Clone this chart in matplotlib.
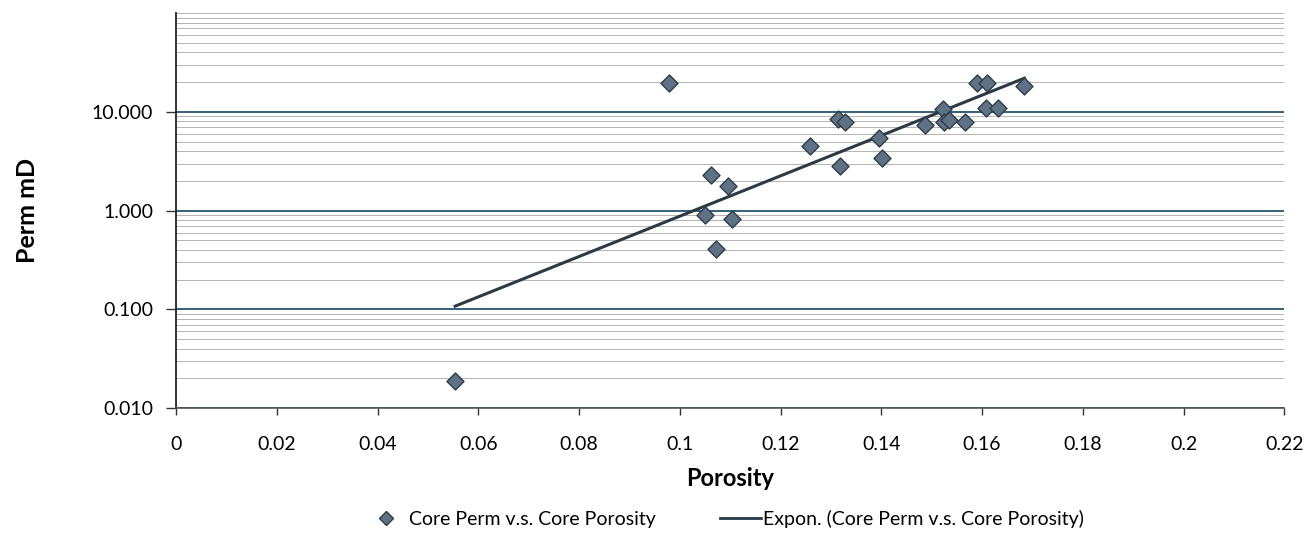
import numpy as np
import matplotlib.pyplot as plt
from matplotlib.ticker import FixedLocator, FuncFormatter, NullFormatter, LogLocator
from matplotlib.lines import Line2D

# core data
porosity = [0.0554, 0.0979, 0.1049, 0.1062, 0.1072, 0.1096, 0.1104, 0.1259,
            0.1313, 0.1317, 0.1327, 0.1396, 0.1402, 0.1486, 0.1523, 0.1525,
            0.1535, 0.1567, 0.1589, 0.1609, 0.1607, 0.1631, 0.1684]
perm = [0.0187, 19.6, 0.91, 2.31, 0.41, 1.79, 0.83, 4.5,
        8.5, 2.85, 7.9, 5.5, 3.4, 7.4, 10.7, 7.9,
        8.3, 7.9, 19.6, 19.6, 11.0, 11.0, 18.3]

x_ticks = [0, 0.02, 0.04, 0.06, 0.08, 0.1, 0.12, 0.14, 0.16, 0.18, 0.2, 0.22]
y_ticks = [0.01, 0.1, 1, 10]

plt.rcParams["font.family"] = ["Lato", "DejaVu Sans"]

x = np.array(porosity)
y = np.array(perm)
# exponential trendline (least squares on ln y, like Excel)
b, ln_a = np.polyfit(x, np.log(y), 1)
xt = np.linspace(x.min(), x.max(), 50)
yt = np.exp(ln_a) * np.exp(b * xt)

fig = plt.figure(figsize=(13.07, 5.5), dpi=100)
ax = fig.add_axes([0.1347, 0.258, 0.848, 0.718])

ax.set_yscale("log")
ax.set_xlim(0, 0.22)
ax.set_ylim(0.01, 100)

ax.yaxis.set_major_locator(FixedLocator(y_ticks))
ax.yaxis.set_major_formatter(FuncFormatter(lambda v, p: f"{v:.3f}"))
ax.yaxis.set_minor_locator(LogLocator(base=10, subs=np.arange(2, 10)))
ax.yaxis.set_minor_formatter(NullFormatter())
ax.xaxis.set_major_locator(FixedLocator(x_ticks))
ax.xaxis.set_major_formatter(FuncFormatter(lambda v, p: f"{v:g}"))

ax.grid(which="minor", axis="y", color="#b4b4b4", lw=0.7)
ax.grid(which="major", axis="y", color="#35607a", lw=1.4)
ax.axhline(100, color="#b4b4b4", lw=0.7)
ax.set_axisbelow(True)

for s in ["top", "right"]:
    ax.spines[s].set_visible(False)
ax.spines["left"].set_color("#222222")
ax.spines["left"].set_linewidth(1.3)
ax.spines["bottom"].set_color("#555555")
ax.spines["bottom"].set_linewidth(1.2)

ax.tick_params(axis="y", which="major", length=7, width=1, color="#333333",
               labelsize=14, pad=9.5)
ax.tick_params(axis="y", which="minor", length=0)
ax.tick_params(axis="x", length=5, width=1, color="#333333", labelsize=14, pad=15)

ax.plot(xt, yt, color="#2b3a44", lw=2.2, zorder=3)
ax.scatter(x, y, marker="D", s=75, color="#5d7285", edgecolor="#2e3c48",
           linewidth=1.0, zorder=4)

ax.set_xlabel("Porosity", fontsize=17, fontweight="bold", labelpad=10)
ax.set_ylabel("Perm mD", fontsize=18, fontweight="bold", labelpad=38)

handles = [
    Line2D([], [], marker="D", ls="none", ms=7, color="#5d7285",
           markeredgecolor="#2e3c48"),
    Line2D([], [], color="#2b3a44", lw=2),
]
fig.legend(handles, ["Core Perm v.s. Core Porosity",
                     "Expon. (Core Perm v.s. Core Porosity)"],
           loc="center", bbox_to_anchor=(0.5545, 0.0564), ncol=2, frameon=False,
           fontsize=14, handlelength=2.1, handletextpad=0.1, columnspacing=3.3)

fig.savefig("out.png", dpi=100)
